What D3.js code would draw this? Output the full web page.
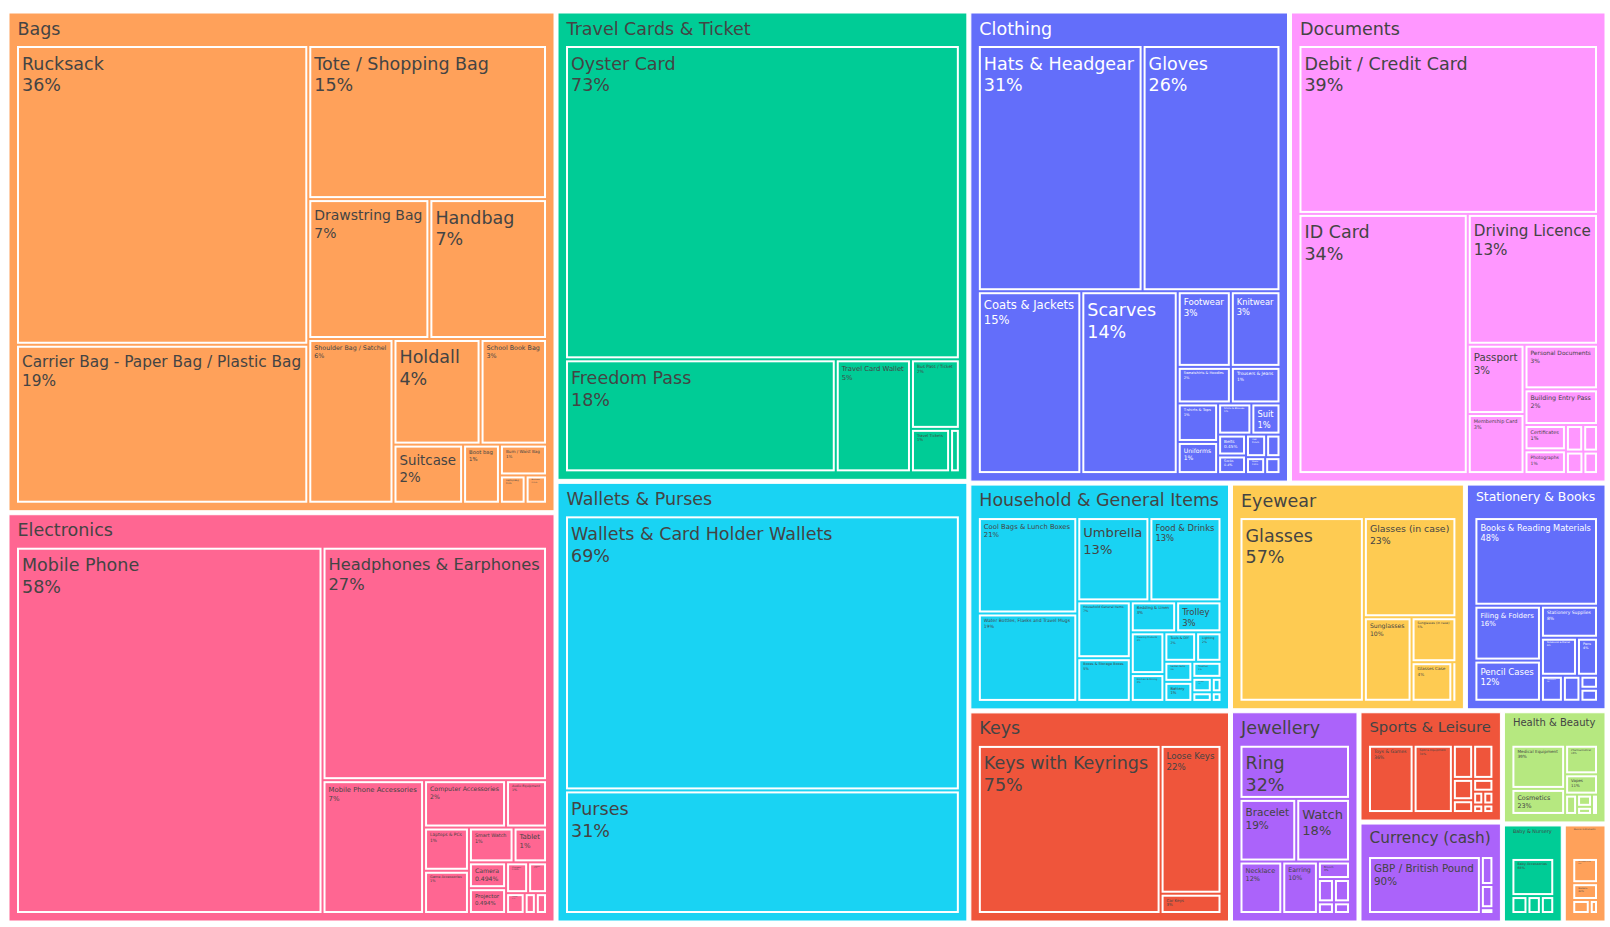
<!DOCTYPE html>
<html><head><meta charset="utf-8">
<script src="https://cdn.jsdelivr.net/npm/d3@7"></script>
<style>
body{margin:0;background:#fff}
svg{display:block}
text{font-family:"DejaVu Sans",Verdana,sans-serif}
</style>
</head><body>
<svg id="chart" width="1610" height="927"></svg>
<script>
// ---------- DATA ----------
const groupNames = ["Bags","Electronics","Travel Cards & Ticket","Wallets & Purses","Clothing","Documents",
  "Household & General Items","Keys","Eyewear","Stationery & Books","Jewellery","Sports & Leisure",
  "Currency (cash)","Health & Beauty","Baby & Nursery","Musical Instruments"];
const groupTotals = [2606,2131,1837,1725,1432,1418,564,525,506,305,258,151,137,112,57,41];
const groupColors = ["#FFA15A","#FF6692","#00CC96","#19D3F3","#636EFA","#FF97FF",
  "#19D3F3","#EF553B","#FECB52","#636EFA","#AB63FA","#EF553B","#AB63FA","#B6E880","#00CC96","#FFA15A"];

const bagsLabels = ["Rucksack","Carrier Bag - Paper Bag / Plastic Bag","Tote / Shopping Bag","Drawstring Bag","Handbag",
  "Shoulder Bag / Satchel","Holdall","School Book Bag","Suitcase","Boot bag","Bum / Waist Bag","Laptop Bag","Briefcase"];
const bagsShares = [36.2,19.2,15.2,7.0,6.8,5.8,3.8,2.9,1.7,0.9,0.6,0.3,0.25];

const electronicsLabels = ["Mobile Phone","Headphones & Earphones","Mobile Phone Accessories","Computer Accessories",
  "Audio Equipment","Laptops & PCs","Game Accessories","Smart Watch","Tablet","Camera","Projector","Chargers",
  "Speakers","E-Reader","Gaming Console","Drone"];
const electronicsShares = [58,27,7,2,1,1,1,0.8,0.6,0.494,0.494,0.35,0.3,0.2,0.12,0.12];

const travelLabels = ["Oyster Card","Freedom Pass","Travel Card Wallet","Bus Pass / Ticket","Travel Tickets","Railcard"];
const travelShares = [73,18,5,2,1,0.25];

const walletsLabels = ["Wallets & Card Holder Wallets","Purses"];
const walletsShares = [69,31];

const clothingLabels = ["Hats & Headgear","Gloves","Coats & Jackets","Scarves","Footwear","Knitwear",
  "Sweatshirts & Hoodies","Trousers & Jeans","T-shirts & Tops","Uniforms","Shirts & Blouses","Suit","Belts",
  "Socks","Ties","Dresses & Skirts","Shorts","Underwear"];
const clothingShares = [31.3,26.2,14.6,13.6,3.1,2.9,1.5,1.4,1.2,1.0,0.8,0.7,0.45,0.4,0.35,0.25,0.25,0.2];

const documentsLabels = ["Debit / Credit Card","ID Card","Driving Licence","Passport","Membership Card",
  "Personal Documents","Building Entry Pass","Certificates","Photographs","Cheque Book","Visa Documents",
  "Birth Certificate","Medical Card"];
const documentsShares = [38.6,33.6,13,3,2.6,2.5,2,0.8,0.75,0.35,0.3,0.3,0.25];

const householdLabels = ["Cool Bags & Lunch Boxes","Water Bottles, Flasks and Travel Mugs","Umbrella","Food & Drinks",
  "Household General Items","Boxes & Storage Boxes","Bedding & Linen","Trolley","Cleaning Products",
  "Kitchen & Dining","Tools & DIY","Lighting","Garden Items","Battery","Toiletries","Candles","Decorations",
  "Mirrors","Flowers"];
const householdShares = [20.5,18.8,13,13,6.5,5,3,3,3,2,2,1.6,1.2,1.2,1.0,0.6,0.4,0.3,0.2];

const keysLabels = ["Keys with Keyrings","Loose Keys","Car Keys"];
const keysShares = [75,22,3];

const eyewearLabels = ["Glasses","Glasses (in case)","Sunglasses","Sunglasses (in case)","Glasses Case","Contact Lenses"];
const eyewearShares = [57,23,10,5,4,0.4];

const stationeryLabels = ["Books & Reading Materials","Filing & Folders","Pencil Cases","Stationery Supplies",
  "Notebooks & Diaries","Pens","Calculators","Maps & Guides","Magazines","Art Supplies"];
const stationeryShares = [48,16,12,8,6,3.5,2.5,2,1,1];

const jewelleryLabels = ["Ring","Bracelet","Watch","Necklace","Earring","Brooch","Pendant","Anklet","Cufflinks","Hair Accessories"];
const jewelleryShares = [32,19,18,12,10,3,2,2,1,1];

const sportsLabels = ["Toys & Games","Sports Equipment","Musical Equipment","Fitness Equipment","Bicycle Accessories",
  "Camping Equipment","Balls","Rackets","Skateboard","Scooter","Fishing Equipment"];
const sportsShares = [36,31,8,8,5,3,3,1.5,1.5,1,1];

const currencyLabels = ["GBP / British Pound","Euro","US Dollar","Other Currency"];
const currencyShares = [90,5,4,1];

const healthLabels = ["Medical Equipment","Cosmetics","Pharmaceutical","Vapes","Hair Care","Toiletries","Perfume","Hearing Aids"];
const healthShares = [39,23,16,11,4,3,2,2];

const babyLabels = ["Baby Accessories","Baby Clothes","Dummies","Baby Bottles"];
const babyShares = [68,12,10,10];

const musicLabels = ["Instrument Cases","Guitars","Accessories","Other Instruments"];
const musicShares = [45,30,17,8];

const leafLabels = [bagsLabels,electronicsLabels,travelLabels,walletsLabels,clothingLabels,documentsLabels,
  householdLabels,keysLabels,eyewearLabels,stationeryLabels,jewelleryLabels,sportsLabels,currencyLabels,
  healthLabels,babyLabels,musicLabels];
const leafShares = [bagsShares,electronicsShares,travelShares,walletsShares,clothingShares,documentsShares,
  householdShares,keysShares,eyewearShares,stationeryShares,jewelleryShares,sportsShares,currencyShares,
  healthShares,babyShares,musicShares];

// ---------- LAYOUT ----------
const X0 = 9, Y0 = 13, X1 = 1605, Y1 = 921;
const F = 17.5, LH = 1.25;
const svg = d3.select("#chart");

const tree = {name:"root", children: groupNames.map((g,i)=>{
  const tot = d3.sum(leafShares[i]);
  return {name:g, color:groupColors[i], children: leafLabels[i].map((l,j)=>({
    name:l, share:leafShares[i][j], count: groupTotals[i]*leafShares[i][j]/tot }))};
})};

const root = d3.hierarchy(tree).sum(d=>d.children?0:d.count).sort((a,b)=>b.value-a.value);
d3.treemap()
  .tile(d3.treemapSquarify.ratio(1))
  .size([X1-X0, Y1-Y0])
  .paddingInner(d=>d.depth===0?4:2)
  .paddingTop(d=>d.depth===0?0:33)
  .paddingLeft(d=>d.depth===0?0:8)
  .paddingRight(d=>d.depth===0?0:8)
  .paddingBottom(d=>d.depth===0?0:8)(root);

function textColor(hex){
  const c = d3.rgb(hex);
  const b = (c.r*299 + c.g*587 + c.b*114)/1000;
  return b < 128 ? "#ffffff" : "#444444";
}
function fmtPct(p){
  if (p >= 0.5) return Math.round(p) + "%";
  let s = p.toPrecision(3);
  if (s.indexOf(".")>=0) s = s.replace(/\.?0+$/,"");
  return s + "%";
}

const gAll = svg.append("g").attr("transform",`translate(${X0},${Y0})`);

function fitText(x, y, w, h, lines, color, padX, padY, offX, offY){
  const t = gAll.append("text").attr("font-size", F).attr("fill", color);
  const spans = lines.map((ln,i)=>t.append("tspan").attr("x",0).attr("dy", i? F*LH : 0).text(ln));
  const maxW = d3.max(spans, s=>s.node().getComputedTextLength());
  const bh = F*(LH*(lines.length-1) + 1.1);
  const s = Math.min(1, (w-padX)/maxW, (h-padY)/bh);
  const fs = F*s;
  if (fs < 1.2 || w < 4 || h < 4) { t.remove(); return; }
  t.attr("font-size", fs).attr("x", x+offX).attr("y", y + offY*Math.min(1,s+0.25) + fs);
  spans.forEach((sp,i)=>sp.attr("x", x+offX).attr("dy", i? fs*LH : 0));
}

root.children.forEach(gr=>{
  const col = gr.data.color, tc = textColor(col);
  gAll.append("rect")
    .attr("x", gr.x0).attr("y", gr.y0)
    .attr("width", gr.x1-gr.x0).attr("height", gr.y1-gr.y0)
    .attr("fill", col).attr("stroke","#fff").attr("stroke-width",1);
  fitText(gr.x0, gr.y0, gr.x1-gr.x0, 33, [gr.data.name], tc, 18, 8, 8.5, 4);
  gr.children.forEach(lf=>{
    const w = lf.x1-lf.x0, h = lf.y1-lf.y0;
    gAll.append("rect")
      .attr("x", lf.x0+1).attr("y", lf.y0+1)
      .attr("width", Math.max(0,w-2)).attr("height", Math.max(0,h-2))
      .attr("fill", col).attr("stroke","#fff").attr("stroke-width",2);
    fitText(lf.x0, lf.y0, w, h, [lf.data.name, fmtPct(lf.data.share)], tc, 11, 9, 5, 6);
  });
});
</script>
</body></html>
